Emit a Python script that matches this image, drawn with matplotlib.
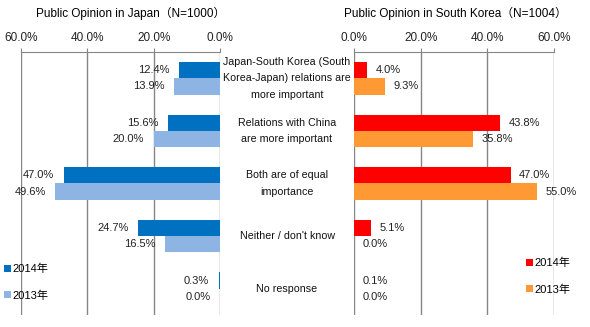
"""
Japan / South Korea public opinion, mirrored bar chart.
"""
import matplotlib
matplotlib.use("Agg")
import matplotlib.pyplot as plt
import numpy as np

plt.rcParams['font.family'] = ['Liberation Sans', 'Noto Sans CJK JP', 'DejaVu Sans']

# data
categories = ["Japan-South Korea (South\nKorea-Japan) relations are\nmore important",
              "Relations with China\nare more important",
              "Both are of equal\nimportance",
              "Neither / don't know",
              "No response"]
japan_2014 = [12.4, 15.6, 47.0, 24.7, 0.3]
japan_2013 = [13.9, 20.0, 49.6, 16.5, 0.0]
korea_2014 = [4.0, 43.8, 47.0, 5.1, 0.1]
korea_2013 = [9.3, 35.8, 55.0, 0.0, 0.0]
ticks = [0, 20, 40, 60]
title_jp = "Public Opinion in Japan（N=1000）"
title_kr = "Public Opinion in South Korea（N=1004）"
years = ["2014年", "2013年"]

W, H = 590, 327
fig = plt.figure(figsize=(W / 100, H / 100), dpi=100)

def px_axes(x0, x1, y0, y1):
    return fig.add_axes([x0 / W, 1 - y1 / H, (x1 - x0) / W, (y1 - y0) / H])

ax_l = px_axes(21, 220, 52, 315)
ax_r = px_axes(354, 554, 52, 315)

y = np.arange(len(categories))
h = 0.31
grid_c = '#868686'

def style(ax, inverted):
    ax.set_xlim(60, 0) if inverted else ax.set_xlim(0, 60)
    ax.set_ylim(len(categories) - 0.5, -0.5)
    ax.set_xticks(ticks)
    ax.set_xticklabels(["%.1f%%" % t for t in ticks], fontsize=8.5, color='#222222')
    ax.xaxis.tick_top()
    ax.tick_params(axis='x', length=3, color=grid_c, pad=2.5)
    ax.set_yticks([])
    for t in ticks:
        ax.axvline(t, color=grid_c, lw=1, zorder=0)
    for s in ['left', 'right', 'bottom']:
        ax.spines[s].set_visible(False)
    ax.spines['top'].set_color(grid_c)

style(ax_l, True)
style(ax_r, False)

b1 = ax_l.barh(y - h / 2, japan_2014, height=h, color='#0070C0', label=years[0])
b2 = ax_l.barh(y + h / 2, japan_2013, height=h, color='#8DB4E2', label=years[1])
b3 = ax_r.barh(y - h / 2, korea_2014, height=h, color='#FF0000', label=years[0])
b4 = ax_r.barh(y + h / 2, korea_2013, height=h, color='#FF9933', label=years[1])

for vals, off in [(japan_2014, -h / 2), (japan_2013, h / 2)]:
    for i, v in enumerate(vals):
        ax_l.annotate("%.1f%%" % v, (v, i + off), xytext=(-7, 0), textcoords='offset points',
                      ha='right', va='center', fontsize=8, color='#222222')
for vals, off in [(korea_2014, -h / 2), (korea_2013, h / 2)]:
    for i, v in enumerate(vals):
        ax_r.annotate("%.1f%%" % v, (v, i + off), xytext=(6, 0), textcoords='offset points',
                      ha='left', va='center', fontsize=8, color='#222222')

# category labels in the middle
for i, c in enumerate(categories):
    yy = ax_l.transData.transform((0, i))[1]
    fig.text(287 / W, yy / H, c, ha='center', va='center', fontsize=7.7,
             linespacing=1.8, color='#111111')

fig.text(131 / W, 1 - 13 / H, title_jp, ha='center', va='center', fontsize=8.5)
fig.text(455 / W, 1 - 13 / H, title_kr, ha='center', va='center', fontsize=8.5)

leg_kw = dict(frameon=False, fontsize=8, handlelength=0.6, handleheight=0.6,
              handletextpad=0.2, labelspacing=1.45, borderpad=0, borderaxespad=0)
fig.legend(handles=[b1, b2], loc='upper left',
           bbox_to_anchor=(4 / W, 1 - 264 / H), **leg_kw)
fig.legend(handles=[b3, b4], loc='upper left',
           bbox_to_anchor=(526 / W, 1 - 258 / H), **leg_kw)

fig.savefig("out.png", dpi=100)
